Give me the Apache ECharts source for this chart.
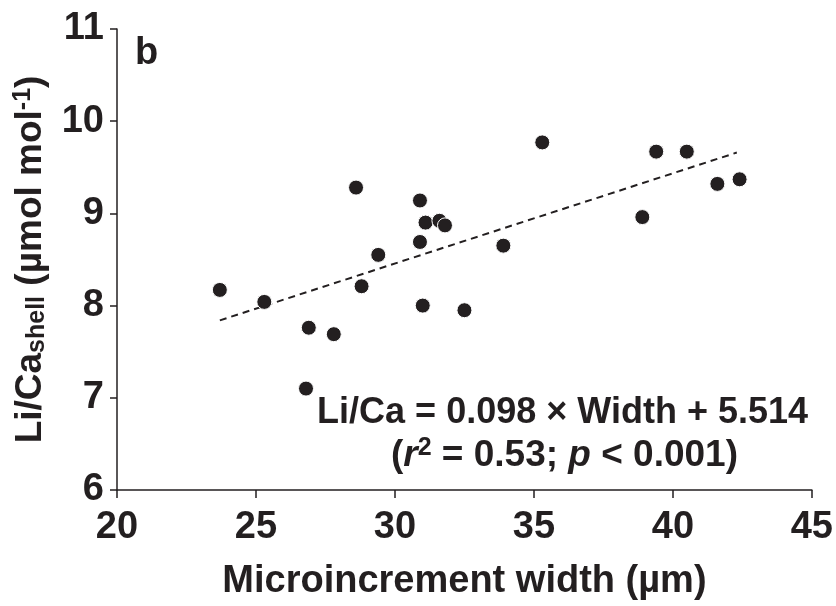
<!DOCTYPE html>
<html>
<head>
<meta charset="utf-8">
<script src="https://cdn.jsdelivr.net/npm/echarts@6/dist/echarts.min.js"></script>
<style>
  html, body { margin: 0; padding: 0; background: #fff; }
  #main { width: 836px; height: 606px; }
</style>
</head>
<body>
<div id="main"></div>
<script>
// data
const widths = [23.7, 25.3, 26.8, 26.9, 27.8, 28.6, 28.8, 29.4, 30.9, 30.9, 31.0, 31.1, 31.6, 31.8, 32.5, 33.9, 35.3, 38.9, 39.4, 40.5, 41.6, 42.4]
const liCa   = [8.17, 8.04, 7.10, 7.76, 7.69, 9.28, 8.21, 8.55, 9.14, 8.69, 8.00, 8.90, 8.92, 8.87, 7.95, 8.65, 9.77, 8.96, 9.67, 9.67, 9.32, 9.37]

// regression line end points
const trendX = [23.7, 42.3]
const trendY = [7.84, 9.66]

const xTicks = [20, 25, 30, 35, 40, 45]
const yTicks = [6, 7, 8, 9, 10, 11]

const ink = "#231f20"
const font = "'Liberation Sans', Arial, sans-serif"

const points = widths.map((w, i) => [w, liCa[i]])
const trend = trendX.map((x, i) => [x, trendY[i]])

const chartContainer = document.getElementById("main")
const myChart = echarts.init(chartContainer)

const options = {
  backgroundColor: "#fff",
  animation: false,
  grid: { left: 117, right: 22, top: 29, bottom: 114 },
  xAxis: {
    type: "value",
    min: xTicks[0], max: xTicks[xTicks.length - 1], interval: 5,
    splitLine: { show: false },
    axisLine: { lineStyle: { color: ink, width: 1.5 } },
    axisTick: { length: 8, lineStyle: { color: ink, width: 1.5 } },
    axisLabel: { color: ink, fontFamily: font, fontWeight: "bold", fontSize: 38, margin: 19 },
    name: "Microincrement width (µm)",
    nameLocation: "middle",
    nameGap: 73,
    nameTextStyle: { color: ink, fontFamily: font, fontWeight: "bold", fontSize: 38 }
  },
  yAxis: {
    type: "value",
    min: yTicks[0], max: yTicks[yTicks.length - 1], interval: 1,
    splitLine: { show: false },
    axisLine: { lineStyle: { color: ink, width: 1.5 } },
    axisTick: { length: 7, lineStyle: { color: ink, width: 1.5 } },
    axisLabel: { color: ink, fontFamily: font, fontWeight: "bold", fontSize: 38, margin: 13 },
    name: "{m|Li/Ca}{sub|shell}{m| (µmol mol}{sup|-1}{m|)}",
    nameLocation: "middle",
    nameRotate: 90,
    nameGap: 67,
    nameTextStyle: {
      color: ink,
      rich: {
        m: { fontFamily: font, fontWeight: "bold", fontSize: 37, color: ink },
        sub: { fontFamily: font, fontWeight: "bold", fontSize: 25, color: ink, verticalAlign: "bottom", padding: [14, 0, 0, 0] },
        sup: { fontFamily: font, fontWeight: "bold", fontSize: 25, color: ink, verticalAlign: "top", padding: [0, 0, 12, 0] }
      }
    }
  },
  graphic: [
    {
      type: "text", left: 135, top: 35,
      style: { text: "b", fill: ink, font: "bold 38px " + font }
    },
    {
      type: "text", right: 28, top: 395,
      style: { text: "Li/Ca = 0.098 × Width + 5.514", fill: ink, font: "bold 36px " + font }
    },
    {
      type: "text", right: 98, top: 436,
      style: {
        text: "{n|(}{i|r}{s|2}{n| = 0.53; }{i|p}{n| < 0.001)}",
        rich: {
          n: { fill: ink, fontFamily: font, fontWeight: "bold", fontSize: 37 },
          i: { fill: ink, fontFamily: font, fontWeight: "bold", fontStyle: "italic", fontSize: 37 },
          s: { fill: ink, fontFamily: font, fontWeight: "bold", fontSize: 25, verticalAlign: "top", padding: [0, 0, 14, 0] }
        }
      }
    }
  ],
  series: [
    {
      type: "line",
      data: trend,
      showSymbol: false,
      silent: true,
      lineStyle: { color: ink, width: 2, type: [7, 5] },
      z: 2
    },
    {
      type: "scatter",
      data: points,
      symbolSize: 15,
      itemStyle: { color: ink, borderColor: "#fff", borderWidth: 1, opacity: 1 },
      z: 3
    }
  ]
}

myChart.setOption(options)
window.onresize = () => myChart.resize()
</script>
</body>
</html>
